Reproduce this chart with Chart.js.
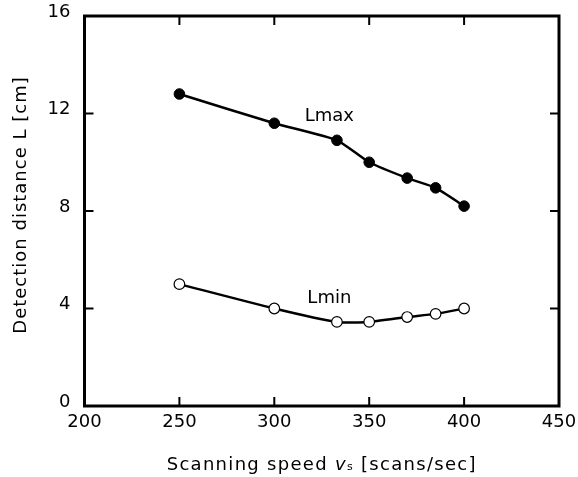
<!DOCTYPE html>
<html>
<head>
<meta charset="utf-8">
<script src="https://cdn.jsdelivr.net/npm/chart.js@4/dist/chart.umd.min.js"></script>
<style>
html,body{margin:0;padding:0;background:#fff;}
#wrap{width:578px;height:477px;position:relative;}
</style>
</head>
<body>
<div id="wrap"><canvas id="c" width="578" height="477"></canvas></div>
<script>
// ---- data ----
const speeds = [250, 300, 333, 350, 370, 385, 400];
const lmax   = [12.8, 11.6, 10.9, 10.0, 9.35, 8.95, 8.2];
const lmin   = [5.0, 4.0, 3.45, 3.45, 3.65, 3.78, 4.0];
const xTicks = [200, 250, 300, 350, 400, 450];
const yTicks = [0, 4, 8, 12, 16];
const seriesLabels = [
  {text: 'Lmax', x: 329, y: 11.9},
  {text: 'Lmin', x: 329, y: 4.4}
];
const xTitleParts = ['Scanning speed ', 'v', 's', ' [scans/sec]'];
const yTitle = 'Detection distance L [cm]';

const FONT = '"DejaVu Sans", sans-serif';

const framePlugin = {
  id: 'frame',
  afterDatasetsDraw(chart) {
    const {ctx, chartArea: a, scales} = chart;
    ctx.save();
    ctx.strokeStyle = '#000';
    // inward ticks
    ctx.lineWidth = 2;
    ctx.beginPath();
    xTicks.forEach(v => {
      const px = scales.x.getPixelForValue(v);
      ctx.moveTo(px, a.bottom); ctx.lineTo(px, a.bottom - 9);
      ctx.moveTo(px, a.top); ctx.lineTo(px, a.top + 9);
    });
    yTicks.forEach(v => {
      const py = scales.y.getPixelForValue(v);
      ctx.moveTo(a.left, py); ctx.lineTo(a.left + 9, py);
      ctx.moveTo(a.right, py); ctx.lineTo(a.right - 9, py);
    });
    ctx.stroke();
    // frame
    ctx.lineWidth = 3;
    ctx.strokeRect(a.left, a.top, a.right - a.left, a.bottom - a.top);
    // series labels
    ctx.fillStyle = '#000';
    ctx.font = '18px ' + FONT;
    ctx.textAlign = 'center';
    ctx.textBaseline = 'middle';
    seriesLabels.forEach(l => {
      ctx.fillText(l.text, scales.x.getPixelForValue(l.x), scales.y.getPixelForValue(l.y));
    });
    // x title with italic v and subscript s
    ctx.letterSpacing = '1.3px';
    const cx = (a.left + a.right) / 2;
    ctx.textAlign = 'left';
    ctx.textBaseline = 'alphabetic';
    const fN = '18px ' + FONT, fI = 'italic 18px ' + FONT, fS = '11px ' + FONT;
    ctx.font = fN; const w0 = ctx.measureText(xTitleParts[0]).width;
    ctx.font = fI; const w1 = ctx.measureText(xTitleParts[1]).width;
    ctx.font = fS; const w2 = ctx.measureText(xTitleParts[2]).width;
    ctx.font = fN; const w3 = ctx.measureText(xTitleParts[3]).width;
    let x0 = cx - (w0 + w1 + w2 + w3) / 2;
    const base = 470;
    ctx.font = fN; ctx.fillText(xTitleParts[0], x0, base); x0 += w0;
    ctx.font = fI; ctx.fillText(xTitleParts[1], x0, base); x0 += w1;
    ctx.font = fS; ctx.fillText(xTitleParts[2], x0, base); x0 += w2;
    ctx.font = fN; ctx.fillText(xTitleParts[3], x0, base);
    // y title
    ctx.letterSpacing = '1px';
    ctx.translate(21, 205);
    ctx.rotate(-Math.PI / 2);
    ctx.textAlign = 'center';
    ctx.textBaseline = 'middle';
    ctx.font = fN;
    ctx.fillText(yTitle, 0, 0);
    ctx.restore();
  }
};

new Chart(document.getElementById('c'), {
  type: 'line',
  data: {
    datasets: [
      {
        label: 'Lmax',
        data: speeds.map((s, i) => ({x: s, y: lmax[i]})),
        borderColor: '#000', borderWidth: 2.5,
        pointBackgroundColor: '#000', pointBorderColor: '#000',
        pointRadius: 5.3, pointBorderWidth: 1, tension: 0.2
      },
      {
        label: 'Lmin',
        data: speeds.map((s, i) => ({x: s, y: lmin[i]})),
        borderColor: '#000', borderWidth: 2.5,
        pointBackgroundColor: '#fff', pointBorderColor: '#000',
        pointRadius: 5.3, pointBorderWidth: 1.2, tension: 0.2
      }
    ]
  },
  options: {
    responsive: false,
    animation: false,
    layout: {padding: {left: 0, right: 19, top: 16, bottom: 0}},
    plugins: {legend: {display: false}, tooltip: {enabled: false}},
    scales: {
      x: {
        type: 'linear', min: 200, max: 450,
        afterBuildTicks: s => { s.ticks = xTicks.map(v => ({value: v})); },
        afterFit: s => { s.height = 71; s.paddingLeft = 0; s.paddingRight = 0; s.paddingTop = 0; s.paddingBottom = 0; },
        grid: {display: false, drawTicks: false},
        border: {display: false},
        ticks: {color: '#000', font: {family: FONT, size: 18}, padding: 6, maxRotation: 0}
      },
      y: {
        type: 'linear', min: 0, max: 16,
        afterBuildTicks: s => { s.ticks = yTicks.map(v => ({value: v})); },
        afterFit: s => { s.width = 84.5; s.paddingLeft = 0; s.paddingRight = 0; s.paddingTop = 0; s.paddingBottom = 0; },
        grid: {display: false, drawTicks: false},
        border: {display: false},
        ticks: {color: '#000', font: {family: FONT, size: 18}, padding: 14, labelOffset: -4}
      }
    }
  },
  plugins: [framePlugin]
});
</script>
</body>
</html>
